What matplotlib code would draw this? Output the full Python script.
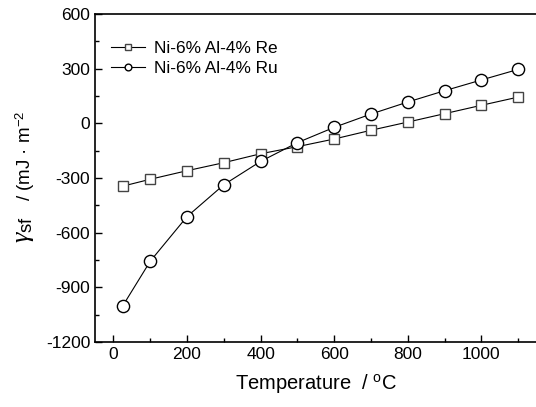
import matplotlib
matplotlib.use("Agg")
import matplotlib.pyplot as plt
from matplotlib.ticker import MultipleLocator

plt.rcParams['font.family'] = ['Liberation Sans', 'DejaVu Sans']
plt.rcParams['mathtext.fontset'] = 'custom'
plt.rcParams['mathtext.rm'] = 'Liberation Sans'
plt.rcParams['mathtext.it'] = 'Liberation Serif:italic'
plt.rcParams['axes.unicode_minus'] = False

temperature = [25, 100, 200, 300, 400, 500, 600, 700, 800, 900, 1000, 1100]
gsf_re = [-345, -307, -260, -216, -167, -128, -86, -38, 7, 53, 99, 144]
gsf_ru = [-1003, -757, -512, -337, -209, -106, -22, 51, 117, 179, 238, 296]
label_re = "Ni-6% Al-4% Re"
label_ru = "Ni-6% Al-4% Ru"

W, H = 536, 407
fig = plt.figure(figsize=(W/100, H/100), dpi=100)
ax = fig.add_axes([95/W, 65/H, 441.6/W, 328/H])

ax.plot(temperature, gsf_re, color='black', lw=0.8, marker='s', ms=7.5,
        mfc='white', mec='#444444', mew=1.0, label=label_re)
ax.plot(temperature, gsf_ru, color='black', lw=0.8, marker='o', ms=8.8,
        mfc='white', mec='black', mew=1.0, label=label_ru)

ax.set_xlim(-50, 1150)
ax.set_ylim(-1200, 600)
ax.xaxis.set_major_locator(MultipleLocator(200))
ax.xaxis.set_minor_locator(MultipleLocator(100))
ax.yaxis.set_major_locator(MultipleLocator(300))
ax.yaxis.set_minor_locator(MultipleLocator(150))
ax.tick_params(which='both', direction='in', top=False, right=False, labelsize=12.5)
ax.tick_params(which='major', length=5, width=1)
ax.tick_params(which='minor', length=3, width=1)
for s in ax.spines.values():
    s.set_linewidth(1.2)

ax.set_xlabel("Temperature  / $^{\\rm o}$C", fontsize=14.5, labelpad=7)

# y label: large gamma symbol followed by units
fig.text(24/W, 1 - 243/H, "$\\gamma_{\\rm sf}$", fontsize=19, rotation=90,
         rotation_mode='anchor', ha='left', va='center')
fig.text(25/W, 1 - 201/H, "/ (mJ · m$^{-2}$", fontsize=13.5, rotation=90,
         rotation_mode='anchor', ha='left', va='center')

leg = ax.legend(loc='upper left', frameon=False, fontsize=12.4, markerscale=0.55,
                handlelength=2.0, handletextpad=0.5, labelspacing=0.3,
                bbox_to_anchor=(0.0, 0.965), borderaxespad=0.5)

fig.savefig("out.png", dpi=100)
